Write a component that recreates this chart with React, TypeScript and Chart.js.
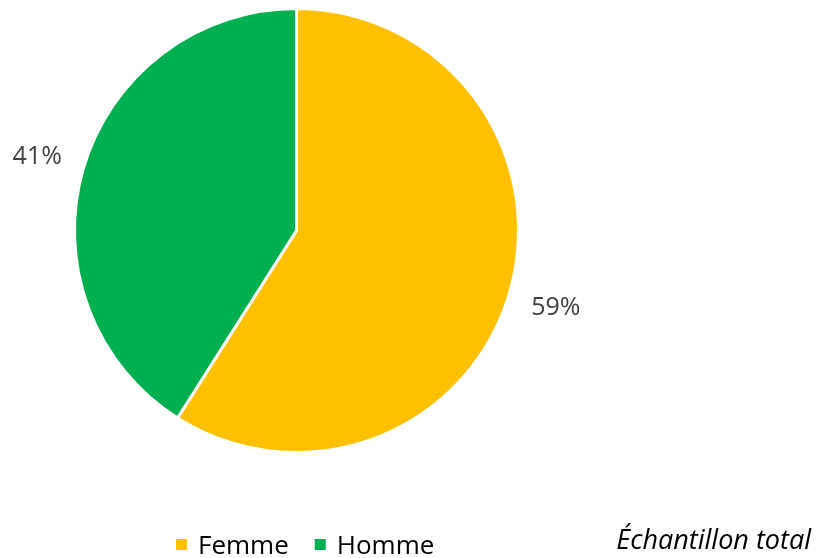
import React, { useEffect, useRef } from "react";
import { Chart, registerables } from "chart.js";

Chart.register(...registerables);

const categories = ["Femme", "Homme"];
const values = [59, 41];
const valueLabels = ["59%", "41%"];
const colors = ["#FFC000", "#00B050"];
const subtitle = "Échantillon total";

const FONT = "'Open Sans', 'Noto Sans', sans-serif";

const overlayPlugin = {
  id: "overlay",
  afterDatasetsDraw(chart: any) {
    const ctx = chart.ctx;
    const meta = chart.getDatasetMeta(0);
    ctx.save();
    // value labels outside slices
    ctx.font = `25px ${FONT}`;
    ctx.fillStyle = "#404040";
    ctx.textAlign = "center";
    ctx.textBaseline = "middle";
    meta.data.forEach((arc: any, i: number) => {
      const mid = (arc.startAngle + arc.endAngle) / 2;
      const r = arc.outerRadius + 48;
      ctx.fillText(valueLabels[i], arc.x + Math.cos(mid) * r, arc.y + Math.sin(mid) * r + 2);
    });
    // legend
    ctx.font = `26px ${FONT}`;
    ctx.textAlign = "left";
    ctx.textBaseline = "alphabetic";
    let x = 176;
    const baseY = 554;
    categories.forEach((c, i) => {
      ctx.fillStyle = colors[i];
      ctx.fillRect(x, 539, 11, 11);
      ctx.fillStyle = "#000000";
      ctx.fillText(c, x + 22, baseY);
      x += 22 + ctx.measureText(c).width + 26;
    });
    // subtitle
    ctx.font = `italic 27px ${FONT}`;
    ctx.fillStyle = "#000000";
    ctx.textAlign = "right";
    ctx.fillText(subtitle, 811, 549);
    ctx.restore();
  },
};

export default function App() {
  const ref = useRef<HTMLCanvasElement>(null);
  useEffect(() => {
    if (!ref.current) return;
    const chart = new Chart(ref.current, {
      type: "pie",
      data: {
        labels: categories,
        datasets: [
          {
            data: values,
            backgroundColor: colors,
            borderColor: "#FFFFFF",
            borderWidth: 3,
          },
        ],
      },
      options: {
        responsive: false,
        animation: false,
        layout: { padding: { left: 73, right: 296, top: 7, bottom: 104 } },
        plugins: { legend: { display: false }, tooltip: { enabled: false } },
      },
      plugins: [overlayPlugin],
    });
    return () => chart.destroy();
  }, []);
  return (
    <div style={{ position: "fixed", left: 0, top: 0, width: 816, height: 558, background: "#fff" }}>
      <canvas ref={ref} width={816} height={558} />
    </div>
  );
}
